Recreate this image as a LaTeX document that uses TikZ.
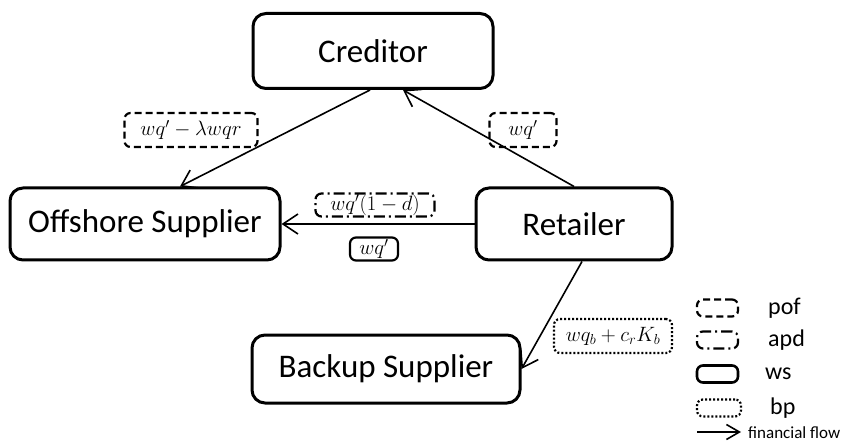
\documentclass[tikz,border=0pt]{standalone}
\usepackage{fontspec}
\setmainfont{Carlito}
\usetikzlibrary{arrows.meta}
\begin{document}
\begin{tikzpicture}[x=1pt,y=-1pt,
  entity/.style={draw,line width=3pt,rounded corners=13pt,inner sep=0pt,font=\fontsize{33}{36}\selectfont},
  lab/.style={line width=2.2pt,rounded corners=6pt,inner sep=0pt,font=\fontsize{22}{24}\selectfont},
  pof/.style={lab,draw,dash pattern=on 7pt off 4pt},
  apd/.style={lab,draw,dash pattern=on 11pt off 4pt on 2pt off 4pt},
  ws/.style={lab,draw},
  bp/.style={lab,draw,dash pattern=on 2pt off 2pt},
  flow/.style={line width=1.6pt,-{Straight Barb[length=15pt,width=20pt,line width=1.6pt]}},
  legtext/.style={font=\fontsize{24}{26}\selectfont,anchor=west,inner sep=0pt}
]
\useasboundingbox (0,0) rectangle (845,443);
\node[entity,minimum width=240pt,minimum height=75pt] (cred) at (373,51) {Creditor};
\node[entity,minimum width=270pt,minimum height=72pt] (off) at (145,224) {Offshore Supplier};
\node[entity,minimum width=196pt,minimum height=72pt] (ret) at (574,224) {Retailer};
\node[entity,minimum width=268pt,minimum height=68pt] (bak) at (386,369) {Backup Supplier};

\coordinate (credA) at ([xshift=-3pt]cred.south);
\coordinate (offA) at ([xshift=35pt]off.north);
\coordinate (credB) at ([xshift=30pt]cred.south);
\coordinate (retS) at ([xshift=8pt]ret.south);

\draw[flow] (credA) -- (offA);
\draw[flow] (ret.north) -- (credB);
\draw[flow] (ret.west) -- (off.east);
\draw[flow] (retS) -- (bak.east);

\node[pof,minimum width=133pt,minimum height=34pt] (l1) at (191,130) {$wq'-\lambda wqr$};
\node[pof,minimum width=67pt,minimum height=34pt] (l2) at (523,130) {$wq'$};
\node[apd,minimum width=119pt,minimum height=23pt] (l3) at (375,205) {$wq'(1-d)$};
\node[ws,minimum width=48pt,minimum height=23pt] (l4) at (374,249) {$wq'$};
\node[bp,minimum width=118pt,minimum height=34pt] (l5) at (613,336) {$wq_b+c_rK_b$};

% legend
\node[pof,minimum width=41pt,minimum height=17pt] (g1) at (717.5,308) {};
\node[legtext] (t1) at (768,308) {pof};
\node[apd,minimum width=41pt,minimum height=17pt] (g2) at (717.5,340) {};
\node[legtext] (t2) at (768,340) {apd};
\node[ws,minimum width=41pt,minimum height=17pt,line width=2.6pt] (g3) at (717.5,374) {};
\node[legtext] (t3) at (765,374) {ws};
\node[bp,minimum width=44pt,minimum height=17pt] (g4) at (719,408) {};
\node[legtext] (t4) at (770,408) {bp};
\coordinate (a1) at (697,432);
\coordinate (a2) at (741,432);
\draw[line width=1.6pt,-{Straight Barb[length=13pt,width=15pt,line width=1.6pt]}] (a1) -- (a2);
\node[legtext,font=\fontsize{17}{19}\selectfont] (t5) at (748,433) {financial flow};
\end{tikzpicture}
\end{document}
